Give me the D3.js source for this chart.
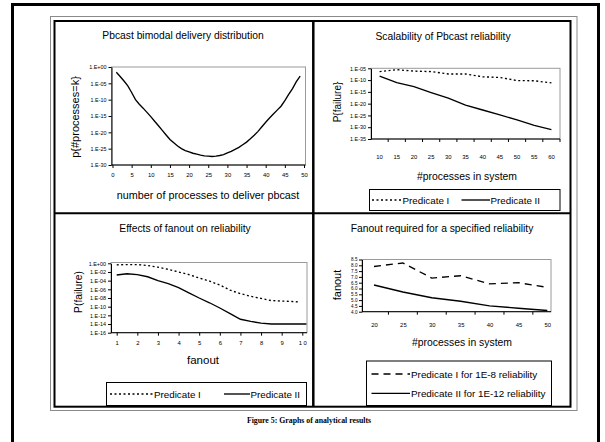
<!DOCTYPE html>
<html><head><meta charset="utf-8">
<script src="https://cdn.jsdelivr.net/npm/d3@7"></script>
<style>
html,body{margin:0;padding:0;background:#fff;}
svg{display:block;}
text{font-family:Arial,"Liberation Sans",sans-serif;fill:#000;}
text.caption{font-family:"Liberation Serif","Times New Roman",serif;font-weight:bold;}
</style></head><body>
<svg id="c" width="605" height="442"></svg>
<script>
// ================= DATA =================
// Chart 1: Pbcast bimodal delivery distribution (log10 of probability)
const deliveryK = [1,2,3,4,5,6,7,8,9,10,11,12,13,14,15,16,17,18,19,20,21,22,23,24,25,26,27,28,29,30,31,32,33,34,35,36,37,38,39,40,41,42,43,44,45,46,47,48,49];
const deliveryExp = [-1.6,-2.9,-4.3,-5.8,-7.8,-10.0,-11.4,-12.6,-13.9,-15.2,-16.6,-18.0,-19.4,-20.8,-22.2,-23.2,-24.2,-25.0,-25.6,-26.0,-26.4,-26.7,-27.0,-27.2,-27.3,-27.4,-27.3,-27.1,-26.8,-26.3,-25.8,-25.2,-24.6,-23.8,-23.0,-22.0,-20.9,-19.7,-18.3,-16.9,-15.6,-14.4,-13.2,-12.0,-10.3,-8.4,-6.6,-4.5,-2.8];
const c1XTicks = [0,5,10,15,20,25,30,35,40,45,50];
const c1YTickLabels = ["1.E+00","1.E-05","1.E-10","1.E-15","1.E-20","1.E-25","1.E-30"];

// Chart 2: Scalability of Pbcast reliability (log10 of P{failure})
const scaleProcesses = [10,15,20,25,30,35,40,45,50,55,60];
const scalePredIExp  = [-6.4,-5.6,-6.2,-6.4,-7.4,-7.4,-8.6,-8.9,-10.2,-10.3,-11.2];
const scalePredIIExp = [-8.3,-11.1,-12.8,-15.3,-17.7,-20.6,-22.7,-24.8,-26.9,-29.2,-31.0];
const c2YTickLabels = ["1.E-05","1.E-10","1.E-15","1.E-20","1.E-25","1.E-30","1.E-35"];

// Chart 3: Effects of fanout on reliability (log10 of P(failure))
const fanoutPredIX   = [1,1.5,2,2.5,3,3.5,4,4.5,5,5.5,6,6.5,7,7.5,8,8.5,9,9.5,9.8];
const fanoutPredIExp = [-0.35,-0.3,-0.3,-0.5,-0.9,-1.4,-2.0,-2.6,-3.4,-4.1,-5.0,-6.2,-7.0,-7.6,-8.1,-8.6,-8.7,-8.8,-8.9];
const fanoutPredIIX   = [1,1.5,2,2.5,3,3.5,4,4.5,5,5.5,6,6.5,7,7.5,8,8.5,9,9.5,10,10.2];
const fanoutPredIIExp = [-2.7,-2.4,-2.6,-3.1,-4.0,-4.7,-5.6,-6.8,-8.0,-9.1,-10.3,-11.6,-12.9,-13.4,-13.8,-14.0,-14.0,-14.0,-14.0,-14.0];
const c3XTicks = [1,2,3,4,5,6,7,8,9,10];
const c3XTickLabels = ["1","2","3","4","5","6","7","8","9","1 0"];
const c3YTickLabels = ["1.E+00","1.E-02","1.E-04","1.E-06","1.E-08","1.E-10","1.E-12","1.E-14","1.E-16"];

// Chart 4: Fanout required for a specified reliability
const reqProcesses = [20,25,30,35,40,45,50];
const reqPredI  = [7.9,8.2,6.9,7.1,6.4,6.5,6.1];
const reqPredII = [6.3,5.7,5.2,4.9,4.5,4.3,4.1];
const c4YTicks = [4,4.5,5,5.5,6,6.5,7,7.5,8,8.5];

const legendLabels2 = ["Predicate I","Predicate II"];
const legendLabels4 = ["Predicate I for 1E-8 reliability","Predicate II for 1E-12 reliability"];
const caption = "Figure 5: Graphs of analytical results";

// ================= DRAW =================
const svg = d3.select("#c");
const DOT = "2,2.5", DASH = "7,5";
const LW = 1.35;
const TITLE = 10.3;

// frames
svg.append("rect").attr("x",12.5).attr("y",4.5).attr("width",586).attr("height",450)
  .attr("fill","none").attr("stroke","#000").attr("stroke-width",3);
svg.append("rect").attr("x",50.5).attr("y",16.5).attr("width",526.5).attr("height",394)
  .attr("fill","none").attr("stroke","#8a8a8a").attr("stroke-width",1);
svg.append("rect").attr("x",54.5).attr("y",21).attr("width",516).attr("height",385.7)
  .attr("fill","none").attr("stroke","#000").attr("stroke-width",2);
svg.append("line").attr("x1",313.3).attr("x2",313.3).attr("y1",21).attr("y2",406.7)
  .attr("stroke","#000").attr("stroke-width",2.5);
svg.append("line").attr("x1",54.5).attr("x2",570.5).attr("y1",213.3).attr("y2",213.3)
  .attr("stroke","#000").attr("stroke-width",2);

function txt(x,y,s,size,anchor,rot){
  const t = svg.append("text").attr("font-size",size).attr("text-anchor",anchor||"middle")
    .attr("dominant-baseline","central").text(s);
  if(rot){ t.attr("transform",`translate(${x},${y}) rotate(${rot})`);} else {t.attr("x",x).attr("y",y);}
  return t;
}
function plotBox(l,t,r,b){
  svg.append("rect").attr("x",l).attr("y",t).attr("width",r-l).attr("height",b-t)
    .attr("fill","none").attr("stroke","#9a9a9a").attr("stroke-width",1);
}
function styleAxis(g,fs){
  g.selectAll("path,line").attr("stroke","#000").attr("stroke-width",1);
  g.selectAll("text").attr("font-size",fs);
}
function path(data,x,y,dash,color){
  const p = svg.append("path").datum(data).attr("fill","none").attr("stroke",color||"#000")
    .attr("stroke-width",LW).attr("d",d3.line().x(d=>x(d[0])).y(d=>y(d[1])));
  if(dash) p.attr("stroke-dasharray",dash);
  return p;
}
function legendBox(l,t,r,b){
  svg.append("rect").attr("x",l).attr("y",t).attr("width",r-l).attr("height",b-t)
    .attr("fill","#fff").attr("stroke","#000").attr("stroke-width",1);
}
function legendSample(x1,x2,y,dash){
  const ln = svg.append("line").attr("x1",x1).attr("x2",x2).attr("y1",y).attr("y2",y)
    .attr("stroke","#000").attr("stroke-width",LW);
  if(dash) ln.attr("stroke-dasharray",dash);
}

// ---------- Chart 1 ----------
{
  const L=111.5,R=305.5,T=67,B=165;
  plotBox(L,T,R,B);
  const x = d3.scaleLinear().domain([0,50]).range([112.5,304]);
  const y = d3.scaleLog().domain([1e-30,1]).range([B,T]);
  const gy = svg.append("g").attr("transform",`translate(${L},0)`)
    .call(d3.axisLeft(y).tickValues(c1YTickLabels.map(Number)).tickFormat((d,i)=>c1YTickLabels[i]).tickSize(3).tickPadding(2).tickSizeOuter(0));
  styleAxis(gy,5.4);
  const gx = svg.append("g").attr("transform",`translate(0,${B})`)
    .call(d3.axisBottom(x).tickValues(c1XTicks).tickSize(3).tickPadding(5).tickSizeOuter(0));
  gx.select(".domain").attr("d",`M${L},0H${R}`);
  styleAxis(gx,5.9);
  path(deliveryK.map((k,i)=>[k,Math.pow(10,deliveryExp[i])]),x,y,null);
  txt(183,35.5,"Pbcast bimodal delivery distribution",TITLE);
  txt(75,117,"p{#processes=k}",11,"middle",-90);
  txt(208,195,"number of processes to deliver pbcast",10.8);
}

// ---------- Chart 2 ----------
{
  const L=371,R=560,T=68.3,B=139;
  plotBox(L,T,R,B);
  const xb = d3.scaleBand().domain(scaleProcesses).range([L,R]);
  const x = d=>xb(d)+xb.bandwidth()/2;
  const y = d3.scaleLog().domain([1e-35,1e-5]).range([B,T]);
  const gy = svg.append("g").attr("transform",`translate(${L},0)`)
    .call(d3.axisLeft(y).tickValues(c2YTickLabels.map(Number)).tickFormat((d,i)=>c2YTickLabels[i]).tickSize(3).tickPadding(2).tickSizeOuter(0));
  styleAxis(gy,5.4);
  const gx = svg.append("g").attr("transform",`translate(0,${B})`)
    .call(d3.axisBottom(xb).tickSize(0).tickPadding(16).tickSizeOuter(0));
  gx.select(".domain").attr("d",`M${L},0H${R}`);
  styleAxis(gx,5.9);
  scaleProcesses.forEach(p=>{
    const bx = xb(p)+xb.bandwidth();
    svg.append("line").attr("x1",bx).attr("x2",bx).attr("y1",B).attr("y2",B+3).attr("stroke","#000");
  });
  path(scaleProcesses.map((p,i)=>[p,Math.pow(10,scalePredIExp[i])]),x,y,DOT);
  path(scaleProcesses.map((p,i)=>[p,Math.pow(10,scalePredIIExp[i])]),x,y,null);
  txt(443,36.5,"Scalability of Pbcast reliability",TITLE);
  txt(337,102,"P{failure}",10,"middle",-90);
  txt(467,176.5,"#processes in system",10.4);
  legendBox(369.5,189.5,560,210.5);
  legendSample(372,401,200,DOT); txt(402.5,200,legendLabels2[0],9.8,"start");
  legendSample(461.5,490,200,null); txt(490.5,200,legendLabels2[1],9.8,"start");
}

// ---------- Chart 3 ----------
{
  const L=111,R=307,T=262.5,B=332.7;
  plotBox(L,T,R,B);
  const x = d3.scaleLinear().domain([1,10]).range([116.7,302.3]);
  const y = d3.scaleLog().domain([1e-16,1]).range([B,263.3]);
  const gy = svg.append("g").attr("transform",`translate(${L},0)`)
    .call(d3.axisLeft(y).tickValues(c3YTickLabels.map(Number)).tickFormat((d,i)=>c3YTickLabels[i]).tickSize(3).tickPadding(2).tickSizeOuter(0));
  styleAxis(gy,5.4);
  const gx = svg.append("g").attr("transform",`translate(0,${B})`)
    .call(d3.axisBottom(x).tickValues(c3XTicks).tickFormat((d,i)=>c3XTickLabels[i]).tickSize(3).tickPadding(5).tickSizeOuter(0));
  gx.select(".domain").attr("d",`M${L},0H${R}`);
  styleAxis(gx,5.9);
  path(fanoutPredIX.map((f,i)=>[f,Math.pow(10,fanoutPredIExp[i])]),x,y,DOT);
  path(fanoutPredIIX.map((f,i)=>[f,Math.pow(10,fanoutPredIIExp[i])]),x,y,null);
  txt(185,228,"Effects of fanout on reliability",TITLE);
  txt(78,292,"P(failure)",10.3,"middle",-90);
  txt(203,360,"fanout",11.5);
  legendBox(106.5,382.5,306.5,405.5);
  legendSample(110,153,394,DOT); txt(154,394,legendLabels2[0],9.8,"start");
  legendSample(224,250,394,null); txt(250.5,394,legendLabels2[1],9.8,"start");
}

// ---------- Chart 4 ----------
{
  const L=362,R=551,T=259.5,B=311.7;
  plotBox(L,T,R,B);
  const x = d3.scaleLinear().domain([20,50]).range([374,547.3]);
  const y = d3.scaleLinear().domain([4,8.5]).range([B,T]);
  const gy = svg.append("g").attr("transform",`translate(${L},0)`)
    .call(d3.axisLeft(y).tickValues(c4YTicks).tickSize(3).tickPadding(1.5).tickSizeOuter(0));
  styleAxis(gy,4.6);
  const gx = svg.append("g").attr("transform",`translate(0,${B})`)
    .call(d3.axisBottom(x).tickValues(reqProcesses).tickSize(0).tickPadding(11).tickSizeOuter(0));
  gx.select(".domain").attr("d",`M${L},0H${R}`);
  styleAxis(gx,5.9);
  reqProcesses.slice(0,-1).forEach((p,i)=>{
    const bx = (x(p)+x(reqProcesses[i+1]))/2;
    svg.append("line").attr("x1",bx).attr("x2",bx).attr("y1",B).attr("y2",B+3).attr("stroke","#000");
  });
  path(reqProcesses.map((p,i)=>[p,reqPredI[i]]),x,y,DASH);
  path(reqProcesses.map((p,i)=>[p,reqPredII[i]]),x,y,null);
  txt(442,228,"Fanout required for a specified reliability",TITLE);
  txt(337,285,"fanout",11,"middle",-90);
  txt(462,342,"#processes in system",10.4);
  legendBox(366.5,361,551.5,405.5);
  legendSample(371.5,410,374,DASH); txt(411,374,legendLabels4[0],9.9,"start");
  legendSample(371.5,410,393.3,null); txt(411,393.3,legendLabels4[1],9.9,"start");
}

// caption
svg.append("text").attr("class","caption").attr("x",309).attr("y",420).attr("text-anchor","middle")
  .attr("dominant-baseline","central").attr("font-size",7.8)
  .text(caption);
</script>
</body></html>
